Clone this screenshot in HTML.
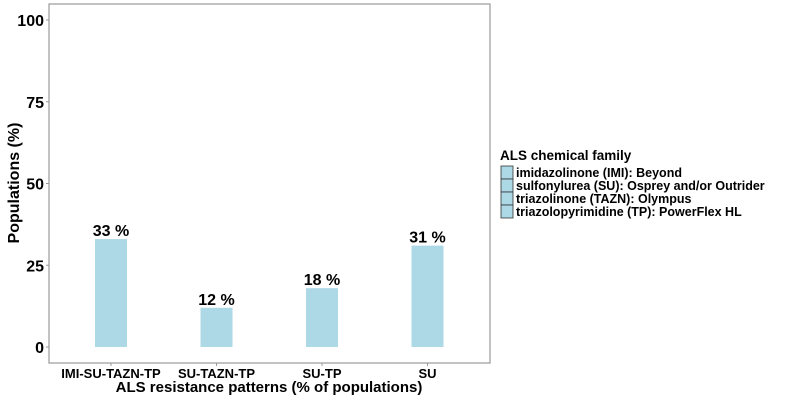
<!DOCTYPE html>
<html><head><meta charset="utf-8"><style>
body{margin:0;background:#fff;font-family:"Liberation Sans",Arial,sans-serif}
svg text{font-family:"Liberation Sans",Arial,sans-serif;font-weight:bold}
</style></head><body>
<svg id="chart" width="800" height="400" xmlns="http://www.w3.org/2000/svg">
<rect x="49" y="4" width="441" height="359" fill="#fff" stroke="#999" stroke-width="1.2"/>
<g id="yaxis"></g>
<g id="bars"></g>
<text x="19" y="183" font-size="16" text-anchor="middle" transform="rotate(-90 19 183)">Populations (%)</text>
<text x="269" y="392" font-size="15" text-anchor="middle">ALS resistance patterns (% of populations)</text>
<g>
<text x="500" y="160" font-size="13.5">ALS chemical family</text>
<g id="legend"></g>
</g>
</svg>
<script>
const categories=["IMI-SU-TAZN-TP","SU-TAZN-TP","SU-TP","SU"];
const values=[33,12,18,31];
const labels=["33 %","12 %","18 %","31 %"];
const yTicks=[0,25,50,75,100];
const legendItems=["imidazolinone (IMI): Beyond","sulfonylurea (SU): Osprey and/or Outrider","triazolinone (TAZN): Olympus","triazolopyrimidine (TP): PowerFlex HL"];
const NS="http://www.w3.org/2000/svg";
const y=v=>347-v*3.27;
const x=i=>111+i*105.5;
function mk(t,a,p){const e=document.createElementNS(NS,t);for(const k in a)e.setAttribute(k,a[k]);p.appendChild(e);return e;}
const ya=document.getElementById('yaxis');
yTicks.forEach(t=>{
 const l=mk('line',{x1:46,x2:49,y1:y(t),y2:y(t),stroke:'#999'},ya);
 
 
 const tx=mk('text',{x:44,y:y(t)+6,'font-size':16,'text-anchor':'end'},ya);
 tx.textContent=t;
 
 
});
const bg=document.getElementById('bars');
categories.forEach((c,i)=>{
 const r=mk('rect',{x:x(i)-16,y:y(values[i]),width:32,height:y(0)-y(values[i]),fill:'#add8e6'},bg);
 
 
 const lt=mk('text',{x:x(i),y:y(values[i])-3,'font-size':16,'text-anchor':'middle'},bg);
 lt.textContent=labels[i];
 
 
 const tk=mk('line',{x1:x(i),x2:x(i),y1:363,y2:366,stroke:'#999'},bg);
 
 
 const xt=mk('text',{x:x(i),y:378,'font-size':13,'text-anchor':'middle'},bg);
 xt.textContent=c;
 
 
});
const lg=document.getElementById('legend');
legendItems.forEach((s,i)=>{
 const r=mk('rect',{x:501,y:166+i*13,width:12,height:13,fill:'#add8e6',stroke:'#333','stroke-width':0.8},lg);
 
 
 const t=mk('text',{x:516,y:177+i*13,'font-size':12.5},lg);
 t.textContent=s;
 
 
});
</script>
</body></html>
